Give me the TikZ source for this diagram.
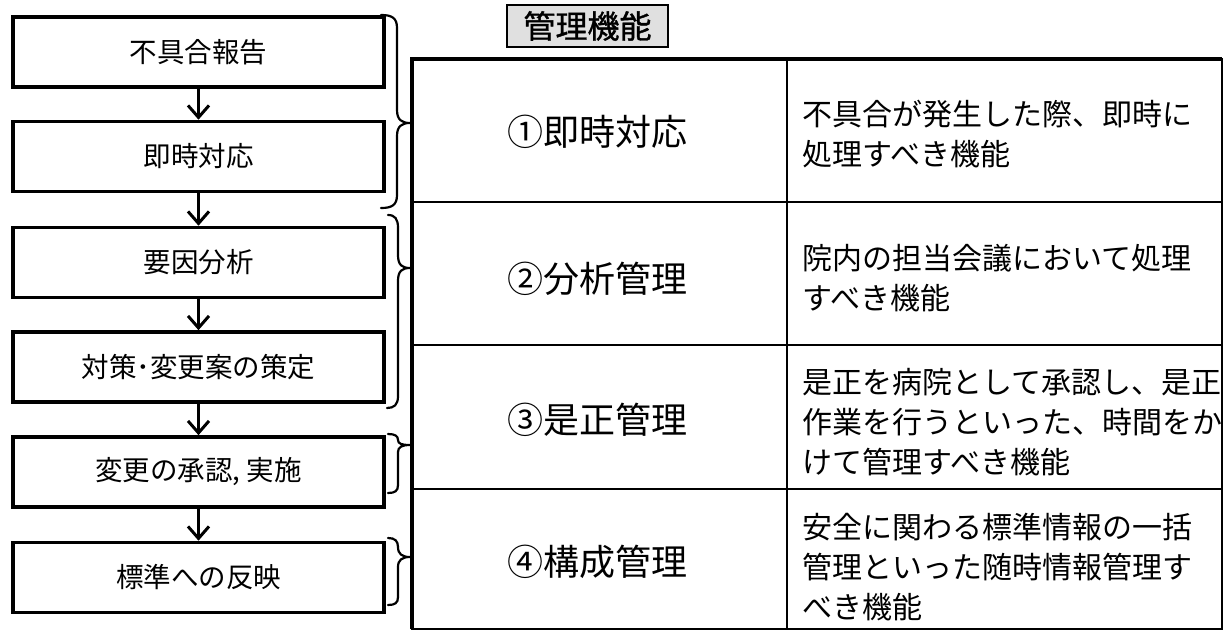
\documentclass[tikz,border=0pt]{standalone}
\usepackage{fontspec}
\setmainfont{Noto Sans CJK JP}[AutoFakeBold=1.2]
\usetikzlibrary{arrows.meta}
\begin{document}
\begin{tikzpicture}[x=1pt,y=-1pt,
  stepbox/.style={draw,line width=3.6pt,minimum width=371pt,minimum height=70pt,inner sep=0pt,font=\fontsize{27.5}{30}\selectfont},
  arr/.style={line width=3pt,-{Straight Barb[length=12pt,width=21pt,line width=3pt]}},
  bracepath/.style={line width=2.2pt,line cap=round},
  funcname/.style={inner sep=0pt,font=\fontsize{36}{40}\selectfont},
  desc/.style={inner sep=0pt,anchor=west,align=left,font=\fontsize{30}{40}\selectfont},
  thin/.style={line width=1.5pt},
  thick4/.style={line width=3.8pt}]
\useasboundingbox (0,0) rectangle (1224,631);
\fill[white] (0,0) rectangle (1224,631);
% left flow boxes
\node[stepbox] (b1) at (198.5,52) {不具合報告};
\node[stepbox] (b2) at (198.5,156.5) {即時対応};
\node[stepbox] (b3) at (198.5,262.5) {要因分析};
\node[stepbox] (b4) at (198.5,367) {対策･変更案の策定};
\node[stepbox] (b5) at (198.5,472) {変更の承認, 実施};
\node[stepbox] (b6) at (198.5,577.5) {標準への反映};
\draw[arr] (b1.south) -- (b2.north);
\draw[arr] (b2.south) -- (b3.north);
\draw[arr] (b3.south) -- (b4.north);
\draw[arr] (b4.south) -- (b5.north);
\draw[arr] (b5.south) -- (b6.north);
% braces
\draw[bracepath] (381,15) .. controls (392,15) and (397,18) .. (397,28) -- (397,110)
  .. controls (397,120) and (402,123) .. (410,123) .. controls (402,123) and (397,126) .. (397,136)
  -- (397,195) .. controls (397,205) and (392,208) .. (381,208);
\draw[bracepath] (388,215) .. controls (395,215) and (398,219) .. (398,228) -- (398,255)
  .. controls (398,265) and (402,268) .. (410,268) .. controls (402,268) and (398,271) .. (398,281)
  -- (398,396) .. controls (398,405) and (394,408) .. (387,408);
\draw[bracepath] (388,434) .. controls (395,434) and (398,436) .. (398,440)
  .. controls (398,444) and (402,445) .. (410,445) .. controls (402,445) and (398,447) .. (398,452)
  -- (398,485) .. controls (398,491) and (395,493) .. (388,493);
\draw[bracepath] (388,538) .. controls (395,538) and (398,541) .. (398,547)
  .. controls (398,554) and (402,557) .. (410,557) .. controls (402,557) and (398,560) .. (398,567)
  -- (398,597) .. controls (398,603) and (395,605) .. (388,605);
% title
\node[draw,line width=1.5pt,fill=black!12,minimum width=161pt,minimum height=42pt,inner sep=0pt,
  font=\fontsize{32}{34}\selectfont\bfseries] (title) at (587.5,26) {管理機能};
% table
\draw[thin] (412,59) rectangle (1222,629);
\draw[thin] (787,59) -- (787,629);
\draw[thin] (412,202) -- (1222,202);
\draw[thin] (412,345) -- (1222,345);
\draw[thin] (412,489) -- (1222,489);
\draw[thick4] (412,629) -- (412,59) -- (1222,59);
\node[funcname] (f1) at (597,132) {①即時対応};
\node[funcname] (f2) at (597,279) {②分析管理};
\node[funcname] (f3) at (597,420) {③是正管理};
\node[funcname] (f4) at (597,562) {④構成管理};
\node[desc] (d1) at (802,134) {不具合が発生した際、即時に\\処理すべき機能};
\node[desc] (d2) at (802,278) {院内の担当会議において処理\\すべき機能};
\node[desc] (d3) at (802,422) {是正を病院として承認し、是正\\作業を行うといった、時間をか\\けて管理すべき機能};
\node[desc] (d4) at (802,567) {安全に関わる標準情報の一括\\管理といった随時情報管理す\\べき機能};
\end{tikzpicture}
\end{document}
